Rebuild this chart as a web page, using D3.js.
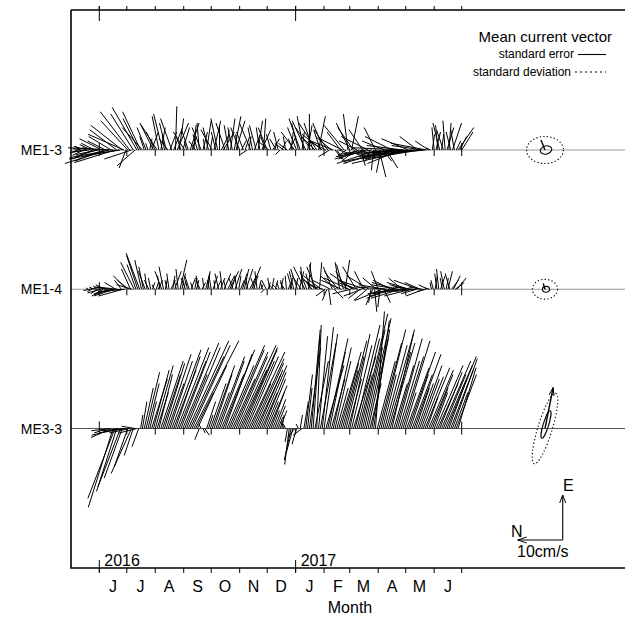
<!DOCTYPE html>
<html><head><meta charset="utf-8">
<script src="https://cdn.jsdelivr.net/npm/d3@7"></script>
<style>
body{margin:0;background:#fff}
svg{display:block}
text{font-family:"Liberation Sans",Arial,Helvetica,sans-serif;fill:#000}
</style>
</head><body><svg id="c" width="625" height="617"></svg>
<script>
// ---------------- data ----------------
const stations = ["ME1-3", "ME1-4", "ME3-3"];
const stickStepDays = 2;
const startDates = ["2016-05-09", "2016-05-20", "2016-06-10"];

// east (drawn up) and north (drawn left) components, cm/s
const me13E = [-0.5,0.8,0.3, -1.2,-0.6,0.8, -0.4,1.2,-2, 1.5,-1.8,-1, 0.5,2.5,-2.5,
  2,-3,-1.5, 3,0.5,-2.8, 4.5,-2,-1.2, 5.5,3.5,-4, 6.5,8.5,-2,
  8,-3.5,9.5, 7,8.5,5, 3,5,1.5, 2.5,4,6, 4,5.5,7.5,
  5,8,3.5, 6,2.5,4, 7,5,9.7, 6,7,3, 5,4,2,
  4.5,6,3, 5.5,2,3.5, 6,5,4, 2.5,6.5,5, 3,4.5,6.5,
  4,7,5.5, 3,4,6, 4.5,5.5,7, 5,7.5,6.5, 3.5,5,2,
  4,3,-1, 3,6,5, 4,5.5,6.5, 5,4.5,7, 3,5,2,
  3.5,2.5,1.5, 2.5,4,-1, 2,1.5,3, 1.5,3,4, 2.5,4,5,
  6,7,4, 7.5,6.5,5.5, 8,5,6, 3,6,7.5, 4.5,3.5,6,
  2,4.5,-1.5, 3,2,-2, -3,-1,4, 2.5,5.5,-1.5, 8,6,7.5,
  5,-2.5,2, -2,-3.5,4.5, -1,-2,3, -2.5,-1.5,-4.5, 5,-3,-6,
  -5,-2.5,2, -4,-3,-1.5, 3,-1,-2, -1,-2.5,-3, 1,0.5,-2,
  2.5,-3,-1.5, -0.5,-1.5,3, -2,-0.5,1, -1,1.5,2, 0.5,3.5,5,
  4,5.5,6, 3.5,4.5,6.5, 5,6,4, 6,4.5,2, 5,3,4];
const me13N = [1.5,1,2, 2.5,3.5,3, 3.5,2.5,4.5, 3,6,5, 4,5,6.5,
  4,9.5,7.5, 5,10,9, 6,11,8, 7,8,1.5, 6,6.5,6,
  5,4,5.5, 3.5,4,4.5, 1,2,0.5, -0.5,-1.5,3, 2,3.5,1.5,
  -1,2,0.5, 1.5,2,-1.5, 2.5,-2,-0.3, -2.5,-1,1, -1.5,2.5,0.5,
  1.5,-2,-1, -0.5,1.5,1, 0.5,2,-1, 0.3,-1,1.2, -0.5,2.5,-1.5,
  1,1.5,0, -1.5,-2.5,2, -0.5,1,-1, 1,-1.5,-2, 0.5,2,-1,
  1.5,-1,1.5, -0.5,2.5,1, -1.5,1.5,-1, 0.8,-2,-0.5, 1,2,2.5,
  1,-1.5,-0.5, 1.5,1,1, -1,2,0.5, 2,-1.5,-0.5, 1,3,2,
  1.5,2.5,-0.5, 1.5,3,-1, 0,3.5,2, 3,4,-1.5, 1.5,4.5,2.5,
  4,3,2.5, 3.5,5,-1.5, -2,-3,3, 5,4.5,2, 1,3,-1.5,
  3.5,3,4, 4.5,-1,3, 5.5,7,6, 1,8,0.5, 2.5,9,-1.5,
  1,-2,5, -2.5,10,7, 6,11,8.5, 9,12,7.5, 8,11.5,10,
  6,13,11, 9.5,12,4, 12,10.5,7, 10,8,3, 1,-0.5,0.5,
  -1,0.5,1.5, -0.5,1.5,0.5, -1.5,-0.5,1, -2,0.8,-1, -3.5,-1.5,-2.5];

const me14E = [0.3,-0.3,-0.5, 0.5,0.8,-1, 0.2,-0.8,-1.5, 1,0.5,-1.2, 0.5,-1,-1.5,
  1.5,0.5,-0.8, 2,-1.5,-0.5, 3,2,4.5, 1,6,5.5, 7.5,8,6.5,
  5,4,3.5, 2,2.5,1.5, 1,1.5,2, 3,4,5, 2.5,2,3.5,
  2,3,4, 2,4.5,6.5, 3.5,2,2.5, 1.5,3,2.5, 1.5,2.5,2,
  3,2,1.5, 2.5,4,3.5, 2,3,3, 2,2,3.5, 2.5,4,3.5,
  2,3,4, 3,2.5,4.5, 3,3,2, 3.5,4.5,4.5, 2.5,3,5,
  3,2.5,4, 2,1,1.5, -0.8,2,1.5, 2.5,2.5,1, 2,1,1.5,
  2.5,2,1.5, 3,2.5,2, 3.5,4,2.5, 4.5,4,3, 5,5,4,
  6,3.5,3, 5.5,5,2, 6,3,1, -1.5,-2.5,-3.5, 2,5,-2,
  3,4,6, 2,5.5,6.5, 4,2.5,-1, 3.5,2,5, 1.5,-2,-1.5,
  4,2,-2.5, 3,-3,-3.5, -5,2.5,4, -4,-2.5,-3, 1,0.5,-2,
  2,-1.5,-1, 1.5,1,-2, 2.5,-1,-0.5, 1,1.5,-1.5, 0.5,-0.5,-1,
  2,1.5,0.5, -1.5,-0.5,1, 0.3,1.5,2, 3,3.5,4.5, 3,2.5,4,
  2.5,4,3.5, 2,3,1.5, 2.5];
const me14N = [0.5,1.5,1, 1,0.5,1.5, 2,3,2.5, 2,2.5,3, 3.5,4,4.5,
  2.5,4.5,5, 1.5,5.5,6, 3,2.5,2, 3.5,3,2, 2.5,3,1.5,
  1,1.5,0.5, 1,0.5,-0.5, 0.5,-0.5,-1, 0.5,1.5,1, -0.5,0.5,0.5,
  -1,-0.5,-1.5, 0.5,0.5,-1.5, -0.8,-0.5,1, 0.3,1,-1, 0.5,-0.5,-0.5,
  0.5,1,-0.8, 0.3,-1,-0.5, 0.5,0.5,-1, 0.2,-1,0.8, -1,0.5,-1.5,
  0.5,-1.5,-2, -1,1,-1.5, 0.5,-0.5,-0.8, -1,-1,-1.5, 0.5,-1.5,-2,
  -1,1,0.5, -0.5,-0.5,0.5, 0.8,1,-0.5, 0.5,-0.5,1, -0.5,1,0.5,
  -0.5,0.5,1, 0.3,-1,-0.5, 1,1,-0.5, 1.5,-1,2, 0.5,2.5,1.5,
  -0.5,1,2.5, 1,2,3, -0.5,4,3.5, 2,1,-0.5, 4,2,-2,
  3.5,3,1, 4.5,1.5,-1, 2.5,5.5,4, 5,3.5,3, 4.5,2.5,4,
  2,6,3, 5,0.5,1.5, -0.5,3,1.5, 0.5,6,-1.5, 6,7,5,
  4,5,6, 5.5,6,6.5, 3,7,5, 4,5,6, 4.5,4.5,3.5,
  5.5,3.5,3, 4,2,2, 1,0.3,0.5, -0.5,0.5,0.5, -1,0.5,0.8,
  -0.5,-1,1, -1.5,-1.5,-2, -2];

const me33E = [-1,-0.5,-2, -17.5,-15.5,-14, -1.5,-13,-11, -0.5,-1,-8.5, -1,-10,-6,
  0.5,-1,-4, 3,6,9, 12.5,10,6, 11,13,14, 8,12,15,
  12,14.5,16.5, 10,15,17.5, 13,16,18, 15,17,19, 12,18,19.5,
  16,18.5,19.5, 8,14,-2.5, 1,-1,-1.5, 6,3,10, 14,12,8,
  16,15,12, 17.5,16.5,14, 18.5,17.5,11, 17,16,18.5, 13,18,17.5,
  15,16,17, 10,15.5,14.5, 12,13,14, 8,12.5,11, 6,9.5,8,
  4,6.5,5, 2.5,4,3, 1.5,1,-3, -8,-7,-5.5, -2,-3.5,1,
  3,-1.5,6, 12,9,18, 22,20,15, 23,20.5,19, 22.5,21,14,
  20,17,11, 18,15,9, 17,14.5,13, 19.5,16,11, 21,18.5,16,
  23,20,12, 25.5,22,18, 24.5,20,10, 22,24,26, 15,19,22,
  12,18.5,21, 17,19,22, 10,14,20, 15,16,19.5, 8,13.5,17,
  12,12,16.5, 9,10,14, 11,11.5,13.5, 7,13,12, 9,8,14,
  10,12.5,15, 12,14,16, 11,13,15.5, 8,12,13.5];
const me33N = [3,4,4.5, 5.5,6,4.5, 6,5,4, 5,6,3, 4.5,4.5,2,
  3,4,1.5, -0.5,-1,-2, -3,-2.5,-1.5, -3.5,-3.5,-4, -2.5,-3,-5,
  -4,-4.5,-5.5, -3.5,-5,-6.5, -5,-5.5,-7, -6,-6.5,-8, -5,-7.5,-9,
  -7.5,-8.5,-10, -4,-6.5,1, 0.5,-0.5,-1, -2,-1,-3.5, -5,-4,-3,
  -6,-5.5,-5, -7,-6,-6, -8,-7.5,-5, -7.5,-7,-8.5, -6,-8,-7.5,
  -6.5,-7,-8, -4.5,-7,-6.5, -5.5,-5.5,-6, -3.5,-5,-4.5, -2.5,-4,-3,
  -1.5,-2.5,-2, -1,-1.5,-0.5, 0.5,0.5,0.5, 1,1.5,1.5, 1.5,1,0.5,
  -0.5,2,-1, -1.5,-1,-2.5, -2,-1.5,-3, -1,-2,-3.5, -2.5,-3,-4,
  -4.5,-3.5,-3, -4,-3.5,-2.5, -5,-4,-3.5, -5,-4,-3, -4.5,-4.5,-5,
  -5.5,-5,-3, -6,-5,-4, -5.5,-4.5,-2.5, -4,-3.5,-2, -4,-5,-5.5,
  -3,-5,-6, -5,-5.5,-5, -3,-4,-5.5, -4.5,-5,-6, -2.5,-5,-6,
  -4,-4.5,-6, -3,-3.5,-5, -4,-4.5,-5.5, -2.5,-5.5,-5, -3.5,-3,-6,
  -4.5,-5,-6.5, -5,-6,-6.5, -4,-5,-5.5, -3,-4.5,-4];

// mean current vector statistics (cm/s; ellipse rotation in degrees)
const meanE = [2.2, 1.3, 9.1];
const meanN = [0.9, 0.4, -1.8];
const sdMajor = [4.1, 2.8, 8.2];
const sdMinor = [3.0, 2.2, 1.6];
const sdAngle = [0, 0, -73];
const seMajor = [1.3, 0.8, 3.2];
const seMinor = [0.9, 0.65, 0.6];
const seAngle = [-15, 0, -73];

const monthLabels = ["J","J","A","S","O","N","D","J","F","M","A","M","J"];
const yearLabels = ["2016", "2017"];
const yearTickDates = ["2016-06-01", "2017-01-01"];
const scaleSpeed = 10; // cm/s

// ---------------- drawing ----------------
const svg = d3.select("#c");
const L = 71, T = 10, R = 625, B = 568;
const parse = d3.utcParse("%Y-%m-%d");

const x = d3.scaleUtc()
  .domain([Date.UTC(2016, 5, 1), Date.UTC(2017, 6, 1)])
  .range([99.3, 461.7]);
const y = d3.scalePoint().domain(stations).range([150, 428.5]);
const s = d3.scaleLinear().domain([0, 10]).range([0, 45]);
const sv = v => v >= 0 ? s(v) : -s(-v);

const monthTicks = d3.utcMonth.range(new Date(Date.UTC(2016, 5, 1)), new Date(Date.UTC(2017, 6, 2)));
const yearTicks = yearTickDates.map(parse);
const baseColor = ["#999", "#999", "#555"];

// baselines
stations.forEach((st, k) => {
  svg.append("line").attr("x1", L).attr("x2", R).attr("y1", y(st)).attr("y2", y(st))
    .attr("stroke", baseColor[k]).attr("stroke-width", 1);
  svg.append("g").selectAll("line").data(monthTicks).join("line")
    .attr("x1", d => x(d)).attr("x2", d => x(d))
    .attr("y1", (d, i) => (i === 0 || i === monthTicks.length - 1) ? y(st) - 7 : y(st))
    .attr("y2", y(st) + 6)
    .attr("stroke", "#000").attr("stroke-width", 1);
});

// sticks
const series = [[me13E, me13N], [me14E, me14N], [me33E, me33N]];
series.forEach(([E, N], k) => {
  const st = stations[k];
  const t0 = parse(startDates[k]);
  const data = E.map((e, i) => ({ t: d3.utcDay.offset(t0, i * stickStepDays), e, n: N[i] }));
  svg.append("g").selectAll("line").data(data).join("line")
    .attr("x1", d => x(d.t))
    .attr("y1", y(st))
    .attr("x2", d => x(d.t) - sv(d.n))
    .attr("y2", d => y(st) - sv(d.e))
    .attr("stroke", "#000").attr("stroke-width", 1);
});

// frame
svg.append("path").attr("d", `M${L},${T}V${B}H${R}M${L},${T}H${R}`)
  .attr("fill", "none").attr("stroke", "#000").attr("stroke-width", 1.6);

// bottom & top month ticks
const gAxis = svg.append("g");
gAxis.selectAll(".bt").data(monthTicks).join("line").attr("class", "bt")
  .attr("x1", d => x(d)).attr("x2", d => x(d)).attr("y1", B).attr("y2", B + 5)
  .attr("stroke", "#000").attr("stroke-width", 1);
gAxis.selectAll(".tt").data(monthTicks).join("line").attr("class", "tt")
  .attr("x1", d => x(d)).attr("x2", d => x(d)).attr("y1", T).attr("y2", T - 4)
  .attr("stroke", "#000").attr("stroke-width", 1);
yearTicks.forEach((d, i) => {
  gAxis.append("line").attr("x1", x(d)).attr("x2", x(d)).attr("y1", B - 8).attr("y2", B + 4)
    .attr("stroke", "#000").attr("stroke-width", 1);
  gAxis.append("line").attr("x1", x(d)).attr("x2", x(d)).attr("y1", T - 4).attr("y2", T + 11)
    .attr("stroke", "#000").attr("stroke-width", 1);
  gAxis.append("text").attr("x", x(d) + 5).attr("y", B - 2).attr("font-size", 16).text(yearLabels[i]);
});
monthLabels.forEach((m, i) => {
  const mid = d3.utcDay.offset(monthTicks[i], 15);
  gAxis.append("text").attr("x", x(mid)).attr("y", 592).attr("text-anchor", "middle")
    .attr("font-size", 16).text(m);
});
svg.append("text").attr("x", 350).attr("y", 613).attr("text-anchor", "middle")
  .attr("font-size", 16).text("Month");

// station labels
stations.forEach(st => {
  svg.append("text").attr("x", 62).attr("y", y(st)).attr("dy", "0.36em")
    .attr("text-anchor", "end").attr("font-size", 14).text(st);
});

// mean current vector, ellipses
const meanX = 545;
function arrowHead(g, x1, y1, x2, y2, len, half) {
  const a = Math.atan2(y2 - y1, x2 - x1);
  const p = (sg) => [x2 - len * Math.cos(a) + sg * half * Math.sin(a), y2 - len * Math.sin(a) - sg * half * Math.cos(a)];
  const [ax, ay] = p(1), [bx, by] = p(-1);
  g.append("path").attr("d", `M${ax},${ay}L${x2},${y2}L${bx},${by}`)
    .attr("fill", "none").attr("stroke", "#000").attr("stroke-width", 1);
}
stations.forEach((st, k) => {
  const cy = y(st);
  const g = svg.append("g");
  g.append("ellipse").attr("cx", 0).attr("cy", 0)
    .attr("rx", s(sdMajor[k])).attr("ry", s(sdMinor[k]))
    .attr("transform", `translate(${meanX},${cy}) rotate(${sdAngle[k]})`)
    .attr("fill", "none").attr("stroke", "#000").attr("stroke-width", 1.1)
    .attr("stroke-dasharray", "1.3,2.2");
  g.append("ellipse").attr("cx", 0).attr("cy", 0)
    .attr("rx", s(seMajor[k])).attr("ry", s(seMinor[k]))
    .attr("transform", `translate(${meanX + 1},${cy - (k === 2 ? 4 : 0)}) rotate(${seAngle[k]})`)
    .attr("fill", "none").attr("stroke", "#000").attr("stroke-width", 1.1);
  const x2 = meanX - sv(meanN[k]);
  const y2 = cy - sv(meanE[k]);
  g.append("line").attr("x1", meanX).attr("y1", cy).attr("x2", x2).attr("y2", y2)
    .attr("stroke", "#000").attr("stroke-width", 1.4);
  if (k === 2) arrowHead(g, meanX, cy, x2, y2, 8, 2.5);
});

// legend
svg.append("text").attr("x", 612).attr("y", 42).attr("text-anchor", "end").attr("font-size", 15)
  .text("Mean current vector");
svg.append("text").attr("x", 574).attr("y", 58).attr("text-anchor", "end").attr("font-size", 12)
  .text("standard error");
svg.append("line").attr("x1", 578).attr("x2", 606).attr("y1", 54.5).attr("y2", 54.5)
  .attr("stroke", "#000").attr("stroke-width", 1.1);
svg.append("text").attr("x", 571).attr("y", 76).attr("text-anchor", "end").attr("font-size", 12)
  .text("standard deviation");
svg.append("line").attr("x1", 575).attr("x2", 606).attr("y1", 72).attr("y2", 72)
  .attr("stroke", "#000").attr("stroke-width", 1.1).attr("stroke-dasharray", "2,3");

// scale arrows
const ox = 562.7, oy = 540;
const gs = svg.append("g");
gs.append("line").attr("x1", ox).attr("y1", oy).attr("x2", ox).attr("y2", oy - s(scaleSpeed))
  .attr("stroke", "#000").attr("stroke-width", 1.1);
arrowHead(gs, ox, oy, ox, oy - s(scaleSpeed), 8, 3);
gs.append("line").attr("x1", ox).attr("y1", oy).attr("x2", ox - s(scaleSpeed)).attr("y2", oy)
  .attr("stroke", "#000").attr("stroke-width", 1.1);
arrowHead(gs, ox, oy, ox - s(scaleSpeed), oy, 9, 3);
gs.append("text").attr("x", 563).attr("y", 491).attr("font-size", 16).text("E");
gs.append("text").attr("x", 511).attr("y", 537).attr("font-size", 16).text("N");
gs.append("text").attr("x", 517).attr("y", 557).attr("font-size", 16).text(scaleSpeed + "cm/s");
</script>
</body></html>
